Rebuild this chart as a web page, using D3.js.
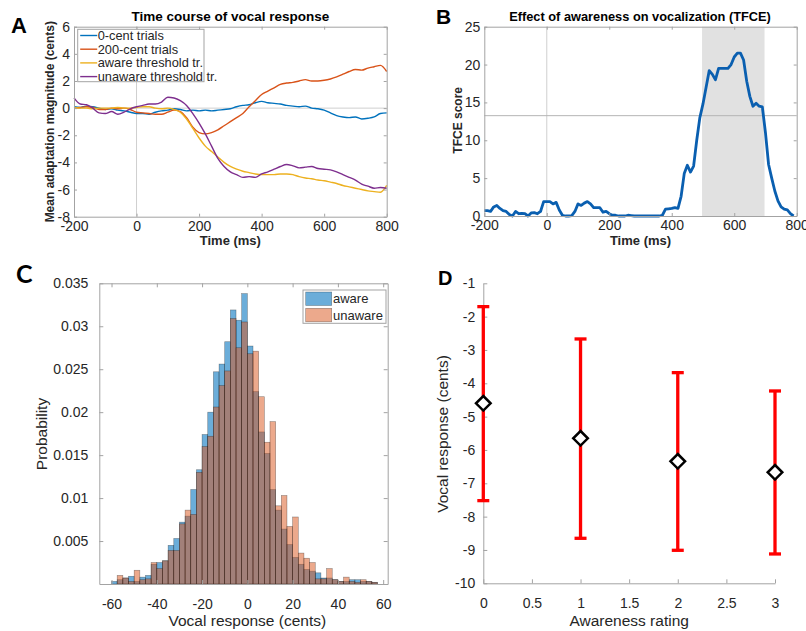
<!DOCTYPE html>
<html>
<head>
<meta charset="utf-8">
<script src="https://cdn.jsdelivr.net/npm/d3@7"></script>
<style>
  body { margin: 0; background: #fff; }
  svg text { font-family: "Liberation Sans", Arial, sans-serif; }
</style>
</head>
<body>
<svg id="fig" width="806" height="631"></svg>
<script>
// ---------- panel A: time course of vocal response (20 ms steps) ----------
var timeA = [-200,-180,-160,-140,-120,-100,-80,-60,-40,-20,0,20,40,60,80,100,120,140,160,180,200,
  220,240,260,280,300,320,340,360,380,400,420,440,460,480,500,520,540,560,580,600,620,640,660,680,700,
  720,740,760,780,800];
var zeroCent = [0.1,0.05,0.15,0.1,0.0,-0.1,-0.05,-0.15,-0.2,-0.3,-0.4,-0.4,-0.45,-0.3,-0.2,-0.15,-0.05,-0.1,
  -0.2,-0.15,-0.2,-0.15,-0.2,-0.15,-0.1,-0.05,0.1,0.2,0.25,0.4,0.5,0.4,0.35,0.3,0.2,0.15,0.1,0.15,0.0,-0.05,
  -0.15,-0.35,-0.55,-0.65,-0.7,-0.65,-0.8,-0.75,-0.65,-0.4,-0.35];
var twoHundredCent = [0.0,0.05,0.1,0.05,-0.1,-0.1,0.0,-0.05,0.0,-0.1,-0.3,-0.35,-0.4,-0.45,-0.45,-0.3,-0.15,
  -0.25,-0.7,-1.4,-1.8,-1.9,-1.8,-1.6,-1.3,-1.0,-0.7,-0.4,0.1,0.55,1.0,1.25,1.5,1.75,1.85,1.9,2.0,2.1,2.0,
  2.0,2.05,2.15,2.3,2.5,2.7,2.85,2.8,2.95,3.05,3.15,2.7];
var awareThr = [0.05,0.0,0.0,-0.05,0.0,0.0,0.0,0.05,0.0,0.0,0.05,0.1,0.1,0.0,-0.05,0.0,-0.1,-0.3,-0.8,-1.5,
  -2.2,-2.8,-3.2,-3.6,-4.0,-4.3,-4.5,-4.65,-4.75,-4.85,-4.9,-4.9,-4.9,-4.85,-4.85,-4.9,-5.05,-5.15,-5.2,
  -5.3,-5.35,-5.45,-5.55,-5.7,-5.8,-5.9,-6.0,-6.1,-6.15,-6.2,-5.7];
var unawareThr = [0.75,0.3,0.25,0.0,-0.35,-0.4,-0.25,-0.45,-0.3,-0.05,0.1,0.2,0.3,0.3,0.45,0.8,0.75,0.55,
  0.2,-0.4,-1.1,-1.9,-2.8,-3.7,-4.3,-4.7,-4.9,-5.1,-5.05,-5.1,-4.85,-4.7,-4.5,-4.3,-4.15,-4.25,-4.4,-4.35,
  -4.3,-4.45,-4.5,-4.55,-4.7,-4.9,-5.1,-5.3,-5.6,-5.75,-5.9,-5.85,-5.9];
var seriesA = ["0-cent trials", "200-cent trials", "aware threshold tr.", "unaware threshold tr."];
var colorsA = ["#0072BD", "#D95319", "#EDB120", "#7E2F8E"];
var xTicksA = [-200, 0, 200, 400, 600, 800];
var yTicksA = [-8, -6, -4, -2, 0, 2, 4, 6];

// ---------- panel B: TFCE score (10 ms steps) ----------
var timeB = [-200,-190,-180,-170,-160,-150,-140,-130,-120,-110,-100,-90,-80,-70,-60,-50,-40,-30,-20,-10,
  0,10,20,30,40,50,60,70,80,90,100,110,120,130,140,150,160,170,180,190,200,210,220,230,240,250,260,270,
  280,290,300,310,320,330,340,350,360,370,380,390,400,410,420,430,440,450,460,470,480,490,500,510,520,
  530,540,550,560,570,580,590,600,610,620,630,640,650,660,670,680,690,700,710,720,730,740,750,760,770,
  780,790];
var tfce = [0.7,0.7,0.6,1.2,1.4,1.0,0.7,0.6,0.2,0.0,0.6,0.3,0.35,0.3,0.0,0.4,0.45,0.3,0.6,1.9,
  1.9,1.9,1.6,1.8,0.8,0.1,0.0,0.0,0.05,0.6,1.6,1.4,1.7,1.9,1.6,1.1,1.1,1.1,0.5,0.6,0.3,0.1,0.1,0.0,
  0.0,0.0,0.1,0.05,0.0,0.0,0.0,0.0,0.0,0.0,0.0,0.0,0.0,0.1,0.9,0.95,1.0,1.1,1.0,2.6,5.6,6.7,5.8,6.6,
  10.0,13.0,14.8,17.0,19.2,18.7,18.0,19.5,19.5,19.5,19.5,20.0,21.0,21.5,21.5,20.6,17.8,15.8,14.5,14.9,
  14.5,14.4,11.0,6.8,5.0,3.3,2.0,1.2,0.9,0.8,0.3,0.0];
var tfceThreshold = 13.25;
var sigWindow = [497, 697];
var xTicksB = [-200, 0, 200, 400, 600, 800];
var yTicksB = [0, 5, 10, 15, 20, 25];

// ---------- panel C: histogram of vocal responses (2.5 cent bins) ----------
var binStart = [-60,-57.5,-55,-52.5,-50,-47.5,-45,-42.5,-40,-37.5,-35,-32.5,-30,-27.5,-25,-22.5,-20,-17.5,
  -15,-12.5,-10,-7.5,-5,-2.5,0,2.5,5,7.5,10,12.5,15,17.5,20,22.5,25,27.5,30,32.5,35,37.5,40,42.5,45,47.5,
  50,52.5,55];
var probAware = [0.0003,0.0005,0.0007,0.0009,0.0003,0.0008,0.0010,0.0023,0.0025,0.0027,0.0045,0.0053,
  0.0072,0.0079,0.0110,0.0133,0.0174,0.0200,0.0247,0.0256,0.0282,0.0319,0.0307,0.0338,0.0277,0.0224,
  0.0177,0.0152,0.0110,0.0086,0.0064,0.0046,0.0031,0.0023,0.0017,0.0015,0.0013,0.0007,0.0007,0.0005,
  0.0003,0.0003,0.0005,0.0005,0.0003,0.0003,0.0002];
var probUnaware = [0.0000,0.0010,0.0007,0.0003,0.0016,0.0005,0.0006,0.0025,0.0018,0.0027,0.0039,0.0039,
  0.0070,0.0086,0.0081,0.0130,0.0160,0.0172,0.0206,0.0231,0.0248,0.0309,0.0275,0.0305,0.0268,0.0271,
  0.0218,0.0165,0.0189,0.0091,0.0103,0.0067,0.0078,0.0036,0.0030,0.0025,0.0006,0.0006,0.0018,0.0005,
  0.0003,0.0008,0.0003,0.0002,0.0005,0.0003,0.0002];
var binWidth = 2.5;
var xTicksC = [-60, -40, -20, 0, 20, 40, 60];
var yTicksC = [0.005, 0.01, 0.015, 0.02, 0.025, 0.03, 0.035];

// ---------- panel D: vocal response by awareness rating ----------
var ratings = [0, 1, 2, 3];
var meanResp = [-4.6, -5.65, -6.34, -6.67];
var errUpper = [-1.7, -2.67, -3.68, -4.23];
var errLower = [-7.52, -8.65, -9.01, -9.12];
var xTicksD = [0, 0.5, 1, 1.5, 2, 2.5, 3];
var yTicksD = [-10, -9, -8, -7, -6, -5, -4, -3, -2, -1];

var svg = d3.select("#fig");
var boxColor = "#a3a3a3", textColor = "#262626";
var fmt = function (d) { return String(d); };

// draws a matlab style axes: inward ticks, optional full box
function drawAxes(g, x, y, w, h, xt, yt, o) {
    var bottom = g.append("g")
        .attr("transform", "translate(0," + h + ")")
        .call(d3.axisBottom(x).tickValues(xt).tickSize(-o.tick).tickSizeOuter(0).tickPadding(o.xpad).tickFormat(fmt));
    var left = g.append("g")
        .call(d3.axisLeft(y).tickValues(yt).tickSize(-o.tick).tickSizeOuter(0).tickPadding(o.ypad).tickFormat(fmt));
    var axes = [bottom, left];
    if (o.box) {
        axes.push(g.append("g")
            .call(d3.axisTop(x).tickValues(xt).tickSize(-o.tick).tickSizeOuter(0).tickFormat("")));
        axes.push(g.append("g")
            .attr("transform", "translate(" + w + ",0)")
            .call(d3.axisRight(y).tickValues(yt).tickSize(-o.tick).tickSizeOuter(0).tickFormat("")));
    }
    axes.forEach(function (a) {
        a.selectAll("path.domain").attr("stroke", boxColor);
        a.selectAll(".tick line").attr("stroke", boxColor);
        a.selectAll("text").style("font-size", o.font + "px").attr("fill", textColor);
    });
}

// ================= A =================
var A = {left: 74, top: 26.7, w: 312.7, h: 190};
var gA = svg.append("g").attr("transform", "translate(" + A.left + "," + A.top + ")");
var xA = d3.scaleLinear().domain([-200, 800]).range([0, A.w]);
var yA = d3.scaleLinear().domain([-8, 6]).range([A.h, 0]);

gA.append("line").attr("x1", xA(0)).attr("x2", xA(0)).attr("y1", 0).attr("y2", A.h)
    .attr("stroke", "#cfcfcf").attr("stroke-width", 1);
gA.append("line").attr("x1", 0).attr("x2", A.w).attr("y1", yA(0)).attr("y2", yA(0))
    .attr("stroke", "#cfcfcf").attr("stroke-width", 1);

var lineA = d3.line().x(function (d) { return xA(d[0]); }).y(function (d) { return yA(d[1]); }).curve(d3.curveMonotoneX);
[zeroCent, twoHundredCent, awareThr, unawareThr].forEach(function (s, i) {
    gA.append("path")
        .datum(timeA.map(function (t, k) { return [t, s[k]]; }))
        .attr("fill", "none")
        .attr("stroke", colorsA[i])
        .attr("stroke-width", 1.4)
        .attr("d", lineA);
});
drawAxes(gA, xA, yA, A.w, A.h, xTicksA, yTicksA, {tick: 3, xpad: 4, ypad: 4, font: 14, box: true});

// legend
var legA = gA.append("g").attr("transform", "translate(3.7,2.6)");
legA.append("rect").attr("width", 126.3).attr("height", 52.4).attr("fill", "#fff").attr("stroke", boxColor);
seriesA.forEach(function (name, i) {
    var yy = 6.2 + i * 13.7;
    legA.append("line").attr("x1", 2.5).attr("x2", 19.5).attr("y1", yy).attr("y2", yy)
        .attr("stroke", colorsA[i]).attr("stroke-width", 1.4);
    legA.append("text").attr("x", 20).attr("y", yy).attr("dy", "0.35em")
        .style("font-size", "12.8px").attr("fill", textColor).text(name);
});

svg.append("text").attr("x", A.left + A.w / 2).attr("y", 21).attr("text-anchor", "middle")
    .style("font-size", "13.5px").style("font-weight", "bold").text("Time course of vocal response");
svg.append("text").attr("x", A.left + A.w / 2).attr("y", 245).attr("text-anchor", "middle")
    .style("font-size", "13px").style("font-weight", "bold").attr("fill", textColor).text("Time (ms)");
svg.append("text").attr("transform", "translate(54," + (A.top + A.h / 2) + ") rotate(-90)")
    .attr("text-anchor", "middle").style("font-size", "12px").style("font-weight", "bold")
    .attr("fill", textColor).text("Mean adaptation magnitude (cents)");
svg.append("text").attr("x", 11).attr("y", 33).style("font-size", "22px").style("font-weight", "bold").text("A");

// ================= B =================
var B = {left: 484.3, top: 26.7, w: 312.4, h: 189.3};
var gB = svg.append("g").attr("transform", "translate(" + B.left + "," + B.top + ")");
var xB = d3.scaleLinear().domain([-200, 800]).range([0, B.w]);
var yB = d3.scaleLinear().domain([0, 25]).range([B.h, 0]);

gB.append("rect").attr("x", xB(sigWindow[0])).attr("y", 0)
    .attr("width", xB(sigWindow[1]) - xB(sigWindow[0])).attr("height", B.h).attr("fill", "#e1e1e1");
gB.append("line").attr("x1", xB(0)).attr("x2", xB(0)).attr("y1", 0).attr("y2", B.h)
    .attr("stroke", "#cfcfcf").attr("stroke-width", 1);
gB.append("line").attr("x1", 0).attr("x2", B.w).attr("y1", yB(tfceThreshold)).attr("y2", yB(tfceThreshold))
    .attr("stroke", "#b5b5b5").attr("stroke-width", 1);

var lineB = d3.line().x(function (d) { return xB(d[0]); }).y(function (d) { return yB(d[1]); });
gB.append("path")
    .datum(timeB.map(function (t, k) { return [t, tfce[k]]; }))
    .attr("fill", "none").attr("stroke", "#0a5fb0").attr("stroke-width", 2.8)
    .attr("stroke-linejoin", "round").attr("d", lineB);
drawAxes(gB, xB, yB, B.w, B.h, xTicksB, yTicksB, {tick: 3, xpad: 4, ypad: 4, font: 14, box: true});

svg.append("text").attr("x", 640).attr("y", 20.5).attr("text-anchor", "middle")
    .style("font-size", "12.8px").style("font-weight", "bold").text("Effect of awareness on vocalization (TFCE)");
svg.append("text").attr("x", B.left + B.w / 2).attr("y", 245).attr("text-anchor", "middle")
    .style("font-size", "13px").style("font-weight", "bold").attr("fill", textColor).text("Time (ms)");
svg.append("text").attr("transform", "translate(462," + (B.top + B.h / 2 - 1) + ") rotate(-90)")
    .attr("text-anchor", "middle").style("font-size", "12px").style("font-weight", "bold")
    .attr("fill", textColor).text("TFCE score");
svg.append("text").attr("x", 436).attr("y", 24).style("font-size", "21px").style("font-weight", "bold").text("B");

// ================= C =================
var C = {left: 99.3, top: 283.3, w: 288.4, h: 300.7};
var gC = svg.append("g").attr("transform", "translate(" + C.left + "," + C.top + ")");
var xC = d3.scaleLinear().domain([-65.4, 62]).range([0, C.w]);
var yC = d3.scaleLinear().domain([0, 0.035]).range([C.h, 0]);
var alphaAware = 0.58, alphaUnaware = 0.5;

function histBars(cls, values, fill, alpha) {
    gC.selectAll("." + cls)
        .data(binStart.map(function (b, i) { return {x: b, y: values[i]}; }))
        .enter().append("rect")
        .attr("class", cls)
        .attr("x", function (d) { return xC(d.x); })
        .attr("y", function (d) { return yC(d.y); })
        .attr("width", xC(binWidth) - xC(0))
        .attr("height", function (d) { return C.h - yC(d.y); })
        .attr("fill", fill).attr("fill-opacity", alpha)
        .attr("stroke", "#000").attr("stroke-opacity", 0.4).attr("stroke-width", 0.6);
}
histBars("aware", probAware, "#0072BD", alphaAware);
histBars("unaware", probUnaware, "#D95319", alphaUnaware);
drawAxes(gC, xC, yC, C.w, C.h, xTicksC, yTicksC, {tick: 4, xpad: 15, ypad: 11, font: 14, box: true});

var legC = gC.append("g").attr("transform", "translate(203.7,6.7)");
legC.append("rect").attr("width", 83).attr("height", 33.3).attr("fill", "#fff").attr("stroke", boxColor);
[["aware", "#0072BD", alphaAware], ["unaware", "#D95319", alphaUnaware]].forEach(function (e, i) {
    legC.append("rect").attr("x", 2.7).attr("y", 2 + i * 16.3).attr("width", 26).attr("height", 13.5)
        .attr("fill", e[1]).attr("fill-opacity", e[2]).attr("stroke", "#000").attr("stroke-opacity", 0.4)
        .attr("stroke-width", 0.6);
    legC.append("text").attr("x", 30).attr("y", 8.8 + i * 16.3).attr("dy", "0.35em")
        .style("font-size", "13px").attr("fill", textColor).text(e[0]);
});

svg.append("text").attr("x", C.left + xC(0)).attr("y", 626).attr("text-anchor", "middle")
    .style("font-size", "15.5px").attr("fill", textColor).text("Vocal response (cents)");
svg.append("text").attr("transform", "translate(47,434) rotate(-90)").attr("text-anchor", "middle")
    .style("font-size", "15.5px").attr("fill", textColor).text("Probability");
svg.append("text").attr("x", 16).attr("y", 283).style("font-size", "25px").style("font-weight", "bold")
    .style("font-family", "Lato, 'Open Sans', sans-serif").text("C");

// ================= D =================
var D = {left: 483.3, top: 283.3, w: 291.7, h: 300};
var gD = svg.append("g").attr("transform", "translate(" + D.left + "," + D.top + ")");
var xD = d3.scaleLinear().domain([0, 3]).range([0, D.w]);
var yD = d3.scaleLinear().domain([-10, -1]).range([D.h, 0]);

drawAxes(gD, xD, yD, D.w, D.h, xTicksD, yTicksD, {tick: 4, xpad: 15, ypad: 8, font: 14, box: false});

// error bars
var capW = 6;
ratings.forEach(function (r, i) {
    var cx = xD(r);
    gD.append("line").attr("x1", cx).attr("x2", cx).attr("y1", yD(errUpper[i])).attr("y2", yD(errLower[i]))
        .attr("stroke", "#ff0000").attr("stroke-width", 3.3);
    [errUpper[i], errLower[i]].forEach(function (v) {
        gD.append("line").attr("x1", cx - capW).attr("x2", cx + capW).attr("y1", yD(v)).attr("y2", yD(v))
            .attr("stroke", "#ff0000").attr("stroke-width", 3.3);
    });
});
gD.selectAll(".mean")
    .data(ratings)
    .enter().append("path")
    .attr("class", "mean")
    .attr("transform", function (d, i) { return "translate(" + xD(d) + "," + yD(meanResp[i]) + ")"; })
    .attr("d", "M0,-7.3L7.3,0L0,7.3L-7.3,0Z")
    .attr("fill", "#fff").attr("stroke", "#000").attr("stroke-width", 2.5);

svg.append("text").attr("x", D.left + D.w / 2).attr("y", 626).attr("text-anchor", "middle")
    .style("font-size", "15.5px").attr("fill", textColor).text("Awareness rating");
svg.append("text").attr("transform", "translate(448,434) rotate(-90)").attr("text-anchor", "middle")
    .style("font-size", "15.5px").attr("fill", textColor).text("Vocal response (cents)");
svg.append("text").attr("x", 438).attr("y", 285).style("font-size", "20px").style("font-weight", "bold").text("D");
</script>
</body>
</html>
